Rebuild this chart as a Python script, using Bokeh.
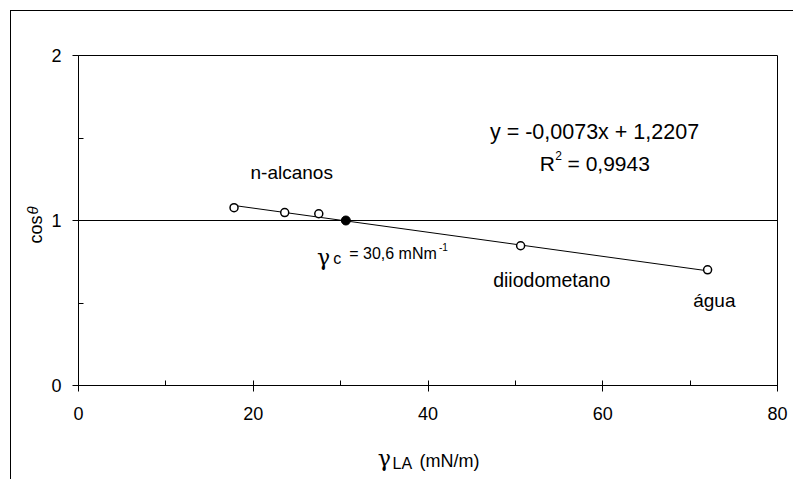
import math
from bokeh.plotting import figure
from bokeh.models import Range1d, FixedTicker, Label, ColumnDataSource
from bokeh.embed import file_html
from bokeh.resources import INLINE

# ---- data ----
liquid_names = ["n-alcano 1", "n-alcano 2", "n-alcano 3", "diiodometano", "água"]
liquid_gamma = [17.8, 23.6, 27.5, 50.6, 72.0]
liquid_cos = [1.078, 1.048, 1.041, 0.847, 0.701]
critical_gamma = [30.6]
critical_cos = [1.0]
trend_x = [17.8, 72.0]
trend_y = [1.091, 0.695]
x_ticks = [0, 20, 40, 60, 80]
x_minor = [10, 30, 50, 70]
y_ticks = [0, 1, 2]
y_minor = [0.5, 1.5]

FONT = "Liberation Sans"
GREEK = "DejaVu Serif"

p = figure(width=793, height=479, output_backend="svg", toolbar_location=None,
           x_range=Range1d(0, 80), y_range=Range1d(0, 2),
           min_border_left=78, min_border_right=16, min_border_top=55, min_border_bottom=94)
p.background_fill_color = "white"
p.border_fill_color = None
# outer chart border (top and left edges; the rest runs off the picture)
p.styles = {
    "background": ("linear-gradient(#000, #000) 10px 10px / 1px 100% no-repeat, "
                   "linear-gradient(#000, #000) 10px 10px / 100% 1px no-repeat, #fff"),
}
p.outline_line_color = "black"
p.outline_line_width = 1

p.xgrid.grid_line_color = None
p.ygrid.grid_line_color = "black"
p.ygrid.grid_line_width = 1

p.xaxis.ticker = FixedTicker(ticks=x_ticks, minor_ticks=x_minor)
p.yaxis.ticker = FixedTicker(ticks=y_ticks, minor_ticks=y_minor)
for ax in (p.xaxis[0], p.yaxis[0]):
    ax.axis_line_color = "black"
    ax.major_tick_line_color = "black"
    ax.minor_tick_line_color = "black"
    ax.major_label_text_font = FONT
    ax.major_label_text_font_size = "18px"
    ax.major_label_text_color = "black"
    ax.minor_tick_out = 0
    ax.minor_tick_in = 5
p.xaxis.major_tick_in = 5
p.xaxis.major_tick_out = 6
p.xaxis.major_label_standoff = 15
p.yaxis.major_tick_in = 0
p.yaxis.major_tick_out = 6
p.yaxis.major_label_standoff = 11

# trendline
p.line(trend_x, trend_y, line_color="black", line_width=1)

src = ColumnDataSource(dict(x=liquid_gamma, y=liquid_cos, name=liquid_names))
p.scatter("x", "y", source=src, size=8, marker="circle", fill_color="white",
          line_color="black", line_width=1.5)
p.scatter(critical_gamma, critical_cos, size=9, marker="circle", fill_color="black",
          line_color="black")


def lab(x, y, text, size, font=FONT, align="left", style="normal", angle=0.0, place=None):
    l = Label(x=x, y=y, text=text, text_font=font, text_font_size=size,
              text_align=align, text_baseline="alphabetic", text_color="black",
              text_font_style=style, angle=angle)
    if place is None:
        p.add_layout(l)
    else:
        # side panels are not clipped to the plot frame
        l.text_line_height = 1.0
        p.add_layout(l, place)


# regression equation
lab(59.06, 1.539, "y = -0,0073x + 1,2207", "21.5px", align="center")
lab(52.80, 1.3436, "R", "21px")
lab(54.55, 1.394, "2", "12px")
lab(55.97, 1.3436, "= 0,9943", "21px")

# point labels
lab(19.69, 1.2927, "n-alcanos", "19px")
lab(47.46, 0.6364, "diiodometano", "19.5px")
lab(70.35, 0.5152, "água", "19px")

# gamma_c annotation
lab(27.31, 0.7758, "γ", "22px", font=GREEK)
lab(29.15, 0.7679, "c", "16px")
lab(30.98, 0.7982, "= 30,6 mNm", "16px")
lab(41.25, 0.8424, "-1", "10px")

# x axis title
lab(34.25, -0.4424, "γ", "22px", font=GREEK, place="above")
lab(35.94, -0.4727, "LA", "16px", place="below")
lab(39.03, -0.4606, "(mN/m)", "18px", place="below")

# y axis title
lab(-4.92, 0.8606, "cos", "18px", angle=math.pi / 2, place="above")
lab(-5.26, 1.036, "θ", "15px", style="italic", angle=math.pi / 2, place="below")

open("out.html", "w").write(file_html(p, INLINE))
